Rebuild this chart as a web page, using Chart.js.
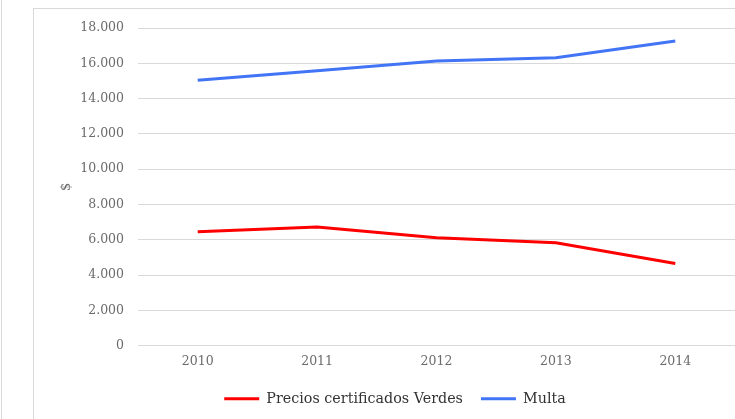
<!DOCTYPE html>
<html>
<head>
<meta charset="utf-8">
<script src="https://cdn.jsdelivr.net/npm/chart.js@4"></script>
<style>
  body { margin: 0; background: #fff; width: 735px; height: 419px; overflow: hidden; position: relative; }
  #edge { position: absolute; left: 1px; top: 0; width: 1px; height: 419px; background: #d9d9d9; }
  #frame { position: absolute; left: 33px; top: 8px; width: 760px; height: 460px; border: 1px solid #d9d9d9; }
  canvas { position: absolute; left: 0; top: 0; }
</style>
</head>
<body>
<div id="edge"></div>
<div id="frame"></div>
<canvas id="chart" width="735" height="419"></canvas>
<script>
const years = ['2010', '2011', '2012', '2013', '2014'];
const precios = [6450, 6720, 6110, 5830, 4660];
const multa = [15040, 15580, 16130, 16320, 17260];

const fontFamily = "'DejaVu Serif', serif";

new Chart(document.getElementById('chart').getContext('2d'), {
  type: 'line',
  data: {
    labels: years,
    datasets: [{
      label: 'Precios certificados Verdes',
      data: precios,
      borderColor: '#ff0000',
      backgroundColor: '#ff0000',
      borderWidth: 3,
      pointRadius: 0,
      tension: 0
    }, {
      label: 'Multa',
      data: multa,
      borderColor: '#4275f6',
      backgroundColor: '#4275f6',
      borderWidth: 3,
      pointRadius: 0,
      tension: 0
    }]
  },
  options: {
    responsive: false,
    animation: false,
    layout: {
      padding: { left: 55, top: 28, right: 0, bottom: 3 }
    },
    scales: {
      x: {
        offset: true,
        grid: { display: false, drawTicks: false },
        border: { display: false },
        ticks: {
          padding: 9,
          color: '#6b6b6b',
          font: { family: fontFamily, size: 12.5 }
        },
        afterFit: (scale) => { scale.height = 28; }
      },
      y: {
        min: 0,
        max: 18000,
        grid: { color: '#d9d9d9', drawTicks: false },
        border: { display: false },
        ticks: {
          stepSize: 2000,
          padding: 14,
          color: '#6b6b6b',
          font: { family: fontFamily, size: 12.5 },
          callback: (v) => v === 0 ? '0' : v.toLocaleString('de-DE')
        },
        title: {
          display: true,
          text: '$',
          color: '#6b6b6b',
          font: { family: fontFamily, size: 13 }
        },
        afterFit: (scale) => { scale.width = 83; }
      }
    },
    plugins: {
      legend: {
        position: 'bottom',
        labels: {
          usePointStyle: true,
          pointStyle: 'line',
          pointStyleWidth: 35,
          padding: 18,
          color: '#333333',
          font: { family: fontFamily, size: 14.3 }
        }
      },
      tooltip: { enabled: false }
    }
  }
});
</script>
</body>
</html>
